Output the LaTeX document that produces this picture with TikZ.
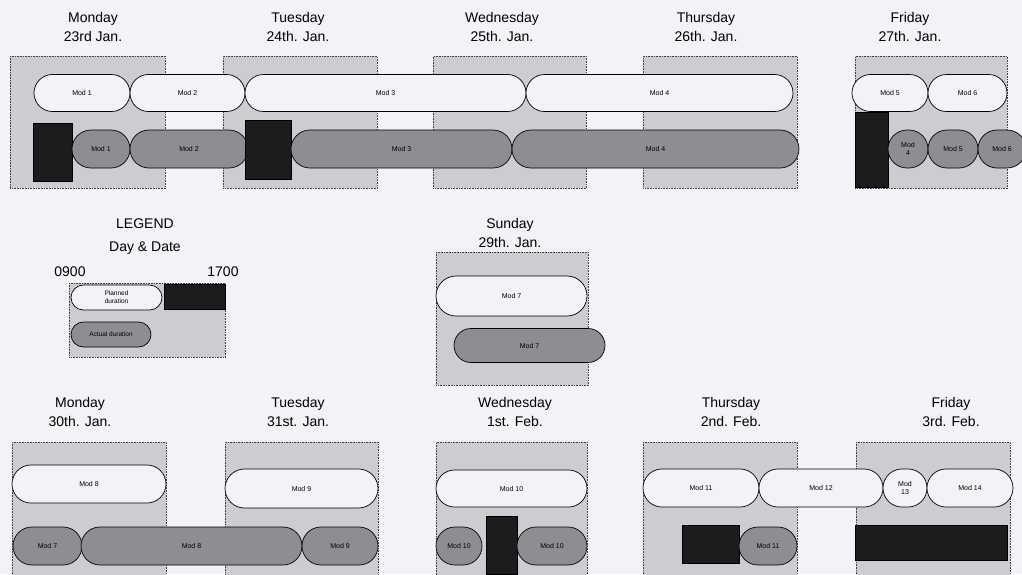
\documentclass[tikz,border=0pt]{standalone}
\usepackage{fontspec}
\setmainfont{Liberation Sans}
\usetikzlibrary{shapes.misc,positioning}

\definecolor{paper}{RGB}{244,241,248}
\definecolor{daygray}{RGB}{206,204,210}
\definecolor{actgray}{RGB}{142,141,146}
\definecolor{blkfill}{RGB}{28,28,30}

\begin{document}
\begin{tikzpicture}[
  x=1pt, y=-1pt,
  day/.style={rectangle, draw=black!75, densely dotted, fill=daygray, line width=0.6pt, inner sep=0pt, anchor=north west},
  daylabel/.style={align=center, font=\fontsize{14}{19}\selectfont},
  plan/.style={rounded rectangle, draw=black, fill=paper, line width=0.7pt, font=\fontsize{7}{8}\selectfont, inner sep=0pt, minimum height=37pt, align=center},
  act/.style={plan, fill=actgray, minimum height=38pt},
  blk/.style={rectangle, draw=black, fill=blkfill, inner sep=0pt},
]
  \useasboundingbox[fill=paper] (0,0) rectangle (1022,574);

  % Week 1: day labels
  \node[daylabel] (lmonA) at (93,27) {Monday\\23rd Jan.};
  \node[daylabel] (ltueA) at (298,27) {Tuesday\\24th. Jan.};
  \node[daylabel] (lwedA) at (502,27) {Wednesday\\25th. Jan.};
  \node[daylabel] (lthuA) at (706,27) {Thursday\\26th. Jan.};
  \node[daylabel] (lfriA) at (910,27) {Friday\\27th. Jan.};

  % Week 1: day boxes
  \node[day, minimum width=155pt, minimum height=132pt] (monA) at (10,56) {};
  \node[day, minimum width=154pt, minimum height=132pt] (tueA) at (223,56) {};
  \node[day, minimum width=153pt, minimum height=132pt] (wedA) at (433,56) {};
  \node[day, minimum width=154pt, minimum height=132pt] (thuA) at (643,56) {};
  \node[day, minimum width=152pt, minimum height=132pt] (friA) at (855,56) {};

  % Week 1: planned
  \node[plan, minimum width=96pt] (p1) at (82,93) {Mod 1};
  \node[plan, minimum width=115pt] (p2) at (187.5,93) {Mod 2};
  \node[plan, minimum width=281pt] (p3) at (385.5,93) {Mod 3};
  \node[plan, minimum width=267pt] (p4) at (659.5,93) {Mod 4};
  \node[plan, minimum width=76pt] (p5) at (890,93) {Mod 5};
  \node[plan, minimum width=79pt] (p6) at (967.5,93) {Mod 6};

  % Week 1: actual
  \node[blk, minimum width=39pt, minimum height=58pt] (bmonA) at (52.5,152) {};
  \node[act, minimum width=58pt] (a1) at (101,149) {Mod 1};
  \node[act, minimum width=118pt] (a2) at (189,149) {Mod 2};
  \node[blk, minimum width=46pt, minimum height=59pt] (btueA) at (268,149.5) {};
  \node[act, minimum width=221pt] (a3) at (401.5,149) {Mod 3};
  \node[act, minimum width=287pt] (a4) at (655.5,149) {Mod 4};
  \node[blk, minimum width=33pt, minimum height=75pt] (bfriA) at (871.5,149.5) {};
  \node[act, minimum width=40pt] (a4b) at (908,149) {Mod\\4};
  \node[act, minimum width=50pt] (a5) at (953,149) {Mod 5};
  \node[act, minimum width=48pt] (a6) at (1002,149) {Mod 6};

  % Legend
  \node[daylabel, font=\fontsize{14}{23}\selectfont] (lleg) at (145,237) {LEGEND\\Day \& Date};
  \node[daylabel] (l0900) at (70,272) {0900};
  \node[daylabel] (l1700) at (223,272) {1700};
  \node[day, minimum width=156pt, minimum height=74pt] (leg) at (69,283) {};
  \node[plan, minimum width=91pt, minimum height=25pt, font=\fontsize{6.5}{8}\selectfont] (lplan) at (116.5,297.5) {Planned\\duration};
  \node[blk, minimum width=61pt, minimum height=25pt] (lblk) at (194.5,296.5) {};
  \node[act, minimum width=80pt, minimum height=25pt, font=\fontsize{6.5}{8}\selectfont] (lact) at (111,334.5) {Actual duration};

  % Sunday
  \node[daylabel] (lsun) at (510,233) {Sunday\\29th. Jan.};
  \node[day, minimum width=152pt, minimum height=133pt] (sun) at (436,252) {};
  \node[plan, minimum width=151pt, minimum height=40pt] (p7) at (511.5,296) {Mod 7};
  \node[act, minimum width=151pt, minimum height=34pt] (a7s) at (529.5,345.5) {Mod 7};

  % Week 2: day labels
  \node[daylabel] (lmonB) at (80,412) {Monday\\30th. Jan.};
  \node[daylabel] (ltueB) at (298,412) {Tuesday\\31st. Jan.};
  \node[daylabel] (lwedB) at (515,412) {Wednesday\\1st. Feb.};
  \node[daylabel] (lthuB) at (731,412) {Thursday\\2nd. Feb.};
  \node[daylabel] (lfriB) at (951,412) {Friday\\3rd. Feb.};

  % Week 2: day boxes
  \node[day, minimum width=154pt, minimum height=134pt] (monB) at (12,442) {};
  \node[day, minimum width=153pt, minimum height=134pt] (tueB) at (225,442) {};
  \node[day, minimum width=151pt, minimum height=134pt] (wedB) at (436,442) {};
  \node[day, minimum width=154pt, minimum height=134pt] (thuB) at (643,442) {};
  \node[day, minimum width=154pt, minimum height=134pt] (friB) at (856,442) {};

  % Week 2: planned
  \node[plan, minimum width=154pt, minimum height=38pt] (p8) at (89,484) {Mod 8};
  \node[plan, minimum width=153pt, minimum height=39pt] (p9) at (301.5,488.5) {Mod 9};
  \node[plan, minimum width=151pt] (p10) at (511.5,488.5) {Mod 10};
  \node[plan, minimum width=116pt, minimum height=38pt] (p11) at (701,488) {Mod 11};
  \node[plan, minimum width=124pt, minimum height=38pt] (p12) at (821,488) {Mod 12};
  \node[plan, minimum width=44pt, minimum height=38pt] (p13) at (905,488) {Mod\\13};
  \node[plan, minimum width=86pt, minimum height=38pt] (p14) at (970,488) {Mod 14};

  % Week 2: actual
  \node[act, minimum width=69pt] (a7) at (47.5,546) {Mod 7};
  \node[act, minimum width=221pt] (a8) at (191.5,546) {Mod 8};
  \node[act, minimum width=76pt] (a9) at (340,546) {Mod 9};
  \node[act, minimum width=46pt] (a10a) at (459,546) {Mod 10};
  \node[blk, minimum width=31pt, minimum height=58pt] (bwedB) at (501.5,545) {};
  \node[act, minimum width=70pt] (a10b) at (552,546) {Mod 10};
  \node[blk, minimum width=57pt, minimum height=38pt] (bthuB) at (710.5,544) {};
  \node[act, minimum width=58pt] (a11) at (768,546) {Mod 11};
  \node[blk, minimum width=152pt, minimum height=35pt] (bfriB) at (931.5,542.5) {};
\end{tikzpicture}
\end{document}
